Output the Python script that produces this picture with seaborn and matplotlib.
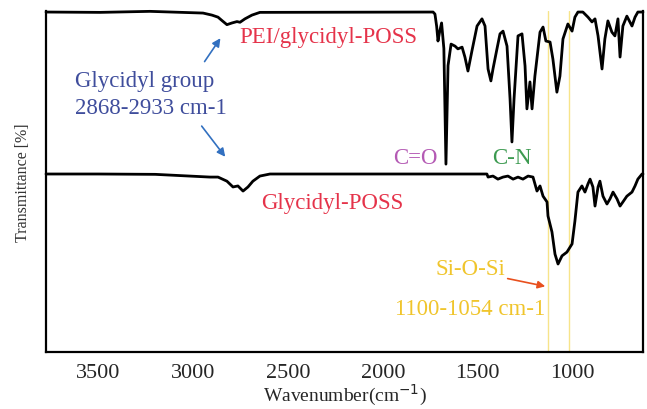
import numpy as np
import pandas as pd
import matplotlib
matplotlib.use("Agg")
import matplotlib.pyplot as plt
import seaborn as sns

# PEI/glycidyl-POSS spectrum
top_wn = [3776, 3491, 3228, 2948, 2901, 2869, 2848, 2822, 2795, 2769, 2753, 2727, 2690, 2648,
          1735, 1725, 1716, 1709, 1700, 1690, 1678, 1667, 1656, 1640, 1619, 1604, 1582, 1567,
          1551, 1530, 1503, 1477, 1461, 1445, 1430, 1419, 1398, 1382, 1366, 1345, 1329, 1319,
          1308, 1287, 1266, 1250, 1240, 1224, 1213, 1198, 1171, 1155, 1140, 1118, 1103, 1082,
          1066, 1050, 1024, 1002, 987, 971, 945, 918, 897, 881, 865, 844, 829, 813, 792, 776,
          760, 749, 734, 713, 686, 670, 655, 628]
top_T = [99.7, 99.6, 99.9, 99.4, 98.8, 98.2, 97.2, 96.0, 96.5, 96.9, 96.7, 97.7, 98.8, 99.6,
         99.7, 99.1, 95.5, 91.2, 94.0, 96.5, 89.0, 55.1, 84.0, 90.3, 89.7, 88.9, 89.4, 86.5,
         82.4, 88.3, 95.6, 97.7, 95.6, 83.0, 79.5, 83.0, 88.9, 93.3, 94.1, 89.7, 74.2, 61.6,
         74.2, 92.7, 93.3, 83.9, 71.3, 79.2, 71.3, 80.9, 93.8, 95.3, 91.2, 90.9, 85.9, 76.2,
         80.9, 91.8, 96.2, 94.1, 98.2, 99.7, 99.7, 98.2, 96.8, 97.7, 92.7, 83.0, 91.8, 97.1,
         93.8, 92.7, 97.7, 86.5, 95.6, 98.5, 95.6, 98.2, 99.7, 99.7]

# Glycidyl-POSS spectrum
bot_wn = [3776, 3500, 3200, 2911, 2869, 2822, 2790, 2764, 2737, 2711, 2685, 2648, 2595,
          1451, 1445, 1419, 1393, 1366, 1340, 1313, 1287, 1261, 1234, 1208, 1187, 1171, 1155,
          1134, 1129, 1108, 1092, 1076, 1055, 1029, 1002, 987, 971, 950, 934, 918, 907, 892,
          881, 865, 855, 839, 818, 802, 786, 765, 749, 734, 713, 686, 670, 655, 633, 628]
bot_T = [52.2, 52.2, 52.1, 51.3, 51.3, 50.1, 48.4, 48.7, 47.2, 48.4, 50.1, 51.6, 52.2,
         52.2, 51.3, 51.6, 50.7, 51.3, 51.6, 50.7, 51.3, 50.7, 51.6, 51.3, 47.2, 48.7, 45.7,
         44.0, 39.9, 35.2, 28.7, 25.8, 28.2, 29.3, 31.7, 38.4, 46.9, 48.7, 46.9, 49.3, 50.7, 48.4,
         42.8, 48.4, 50.1, 45.7, 43.4, 44.9, 46.9, 44.9, 42.8, 44.0, 45.7, 46.9, 48.7, 50.7, 52.2, 52.2]

# Si-O-Si band markers
band_lines = [1129, 1018]

df = pd.concat([
    pd.DataFrame({"wn": top_wn, "T": top_T, "sample": "PEI/glycidyl-POSS"}),
    pd.DataFrame({"wn": bot_wn, "T": bot_T, "sample": "Glycidyl-POSS"}),
])

sns.set_style("white")
plt.rcParams["font.family"] = ["Liberation Serif", "DejaVu Serif"]

fig = plt.figure(figsize=(6.47, 4.10), dpi=100)
ax = fig.add_axes([0.0711, 0.139, 0.9227, 0.8317])

for x in band_lines:
    ax.axvline(x, color="#f7e48a", lw=1.0, zorder=1)

sns.lineplot(data=df, x="wn", y="T", hue="sample", units="sample", estimator=None,
             sort=False, palette=["black", "black"], lw=2.0, legend=False, ax=ax,
             zorder=3, clip_on=False)

ax.set_xlim(3776, 628)
ax.set_ylim(0, 100)
ax.set_xticks([3500, 3000, 2500, 2000, 1500, 1000])
ax.set_yticks([])
ax.tick_params(axis="x", length=0, pad=8, labelsize=16)
ax.set_xlabel("Wavenumber(cm$^{-1}$)", fontsize=14, labelpad=0)
ax.set_ylabel("Transmittance [%]", fontsize=11.5, color="#333333", labelpad=11)
for s in ["left", "bottom", "right"]:
    ax.spines[s].set_color("black")
    ax.spines[s].set_linewidth(1.6)
ax.spines["top"].set_visible(False)

fs = 16.5
ax.text(2285, 92.4, "PEI/glycidyl-POSS", color="#e5334a", fontsize=fs, ha="center", va="center")
ax.text(3623, 79.5, "Glycidyl group", color="#3f4d9c", fontsize=fs, ha="left", va="center")
ax.text(3623, 71.6, "2868-2933 cm-1", color="#3f4d9c", fontsize=fs, ha="left", va="center")
ax.annotate("", xy=(2848, 92.7), xytext=(2948, 84.5),
            arrowprops=dict(arrowstyle="-|>", color="#3270c0", lw=1.2, mutation_scale=12))
ax.annotate("", xy=(2822, 56.6), xytext=(2964, 66.9),
            arrowprops=dict(arrowstyle="-|>", color="#3270c0", lw=1.2, mutation_scale=12))
ax.text(1830, 56.9, "C=O", color="#b45ab4", fontsize=fs, ha="center", va="center")
ax.text(1319, 56.9, "C-N", color="#3c9a50", fontsize=fs, ha="center", va="center")
ax.text(2268, 43.7, "Glycidyl-POSS", color="#e5334a", fontsize=fs, ha="center", va="center")
ax.text(1540, 24.6, "Si-O-Si", color="#f0c52c", fontsize=fs, ha="center", va="center")
ax.text(1540, 12.9, "1100-1054 cm-1", color="#f0c52c", fontsize=fs, ha="center", va="center")
ax.annotate("", xy=(1129, 19.1), xytext=(1356, 21.7),
            arrowprops=dict(arrowstyle="-|>", color="#e8501e", lw=1.2, mutation_scale=11))

fig.savefig("out.png", dpi=100)
